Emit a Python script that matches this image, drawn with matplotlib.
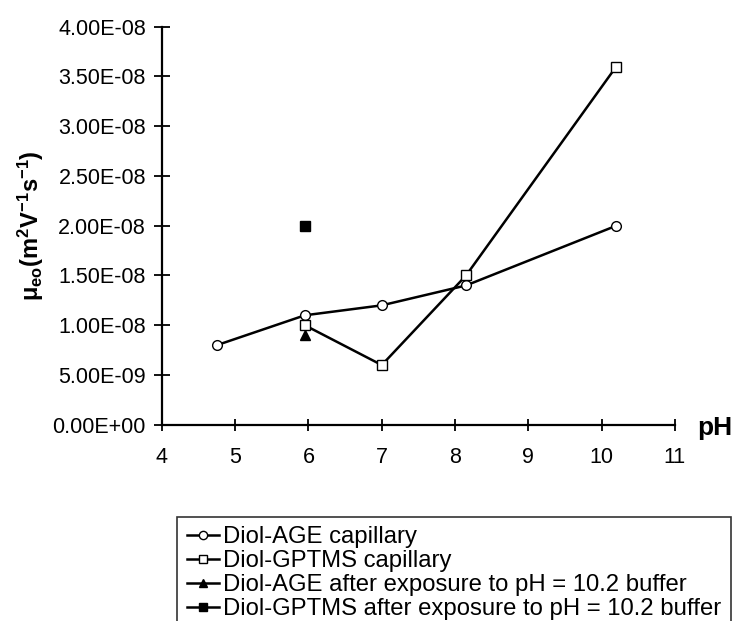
import numpy as np
from matplotlib import pyplot as plt

plt.rcParams['font.family'] = ['Liberation Sans', 'DejaVu Sans']
plt.rcParams['mathtext.fontset'] = 'custom'
plt.rcParams['mathtext.rm'] = 'Liberation Sans:bold'
plt.rcParams['mathtext.bf'] = 'Liberation Sans:bold'
plt.rcParams['mathtext.it'] = 'Liberation Sans:bold'

# data
ph_age = [4.75, 5.95, 7.0, 8.15, 10.2]
mu_age = [0.8e-8, 1.1e-8, 1.2e-8, 1.4e-8, 2.0e-8]
ph_gptms = [5.95, 7.0, 8.15, 10.2]
mu_gptms = [1.0e-8, 0.6e-8, 1.5e-8, 3.6e-8]
ph_age_exp = [5.95]
mu_age_exp = [0.9e-8]
ph_gptms_exp = [5.95]
mu_gptms_exp = [2.0e-8]
labels = ['Diol-AGE capillary', 'Diol-GPTMS capillary',
          'Diol-AGE after exposure to pH = 10.2 buffer',
          'Diol-GPTMS after exposure to pH = 10.2 buffer']
yticks = np.arange(0, 4.01e-8, 0.5e-8)
ytick_labels = ['0.00E+00', '5.00E-09', '1.00E-08', '1.50E-08', '2.00E-08',
                '2.50E-08', '3.00E-08', '3.50E-08', '4.00E-08']

fig = plt.figure(figsize=(7.36, 6.21), dpi=100)
ax = fig.add_axes([0.220, 0.316, 0.697, 0.641])

ax.plot(ph_age, mu_age, '-o', color='black', mfc='white', ms=7, lw=1.8, label=labels[0])
ax.plot(ph_gptms, mu_gptms, '-s', color='black', mfc='white', ms=7, lw=1.8, label=labels[1])
ax.plot(ph_age_exp, mu_age_exp, '-^', color='black', ms=7, lw=1.8, label=labels[2])
ax.plot(ph_gptms_exp, mu_gptms_exp, '-s', color='black', ms=7, lw=1.8, label=labels[3])

ax.set_xlim(4, 11)
ax.set_ylim(0, 4e-8)
ax.set_xticks(range(4, 12))
ax.set_yticks(yticks)
ax.set_yticklabels(ytick_labels)
ax.spines['top'].set_visible(False)
ax.spines['right'].set_visible(False)
ax.spines['left'].set_linewidth(1.6)
ax.spines['bottom'].set_linewidth(1.6)
ax.tick_params(direction='inout', width=1.3, labelsize=15.5)
ax.tick_params(axis='y', length=11, pad=6)
ax.tick_params(axis='x', length=8, pad=12)

ax.set_ylabel('μ$_{eo}$(m$^{2}$V$^{-1}$s$^{-1}$)',
              fontsize=17, fontweight='bold', labelpad=5)
fig.text(0.947, 0.311, 'pH', fontsize=19, fontweight='bold', ha='left', va='center')

leg = fig.legend(loc='upper left', bbox_to_anchor=(0.241, 0.168), fontsize=17.2,
                 frameon=True, fancybox=False, edgecolor='black', handlelength=1.35,
                 handletextpad=0.15, borderpad=0.4, labelspacing=0.08, borderaxespad=0,
                 markerscale=0.85)
leg.get_frame().set_linewidth(1.2)

fig.savefig('out.png', dpi=100)
